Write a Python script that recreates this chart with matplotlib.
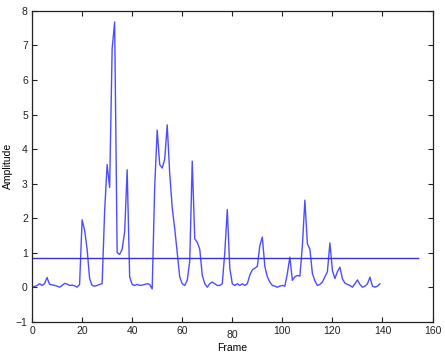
import numpy as np
import matplotlib
matplotlib.use('Agg')
import matplotlib.pyplot as plt

# amplitude per frame
amplitude = [
    0.00, 0.02, 0.05, 0.10, 0.05, 0.10, 0.28, 0.08, 0.07, 0.05,
    0.03, 0.00, 0.05, 0.11, 0.09, 0.05, 0.06, 0.04, 0.00, 0.08,
    1.95, 1.65, 1.10, 0.25, 0.05, 0.03, 0.05, 0.08, 0.10, 2.20,
    3.55, 2.89, 6.90, 7.68, 1.00, 0.95, 1.10, 1.60, 3.40, 0.30,
    0.08, 0.05, 0.08, 0.05, 0.06, 0.08, 0.10, 0.08, -0.05, 2.90,
    4.55, 3.55, 3.45, 3.70, 4.70, 3.30, 2.30, 1.70, 1.00, 0.30,
    0.10, 0.05, 0.20, 0.75, 3.65, 1.40, 1.30, 1.10, 0.35, 0.10,
    0.00, 0.10, 0.15, 0.10, 0.05, 0.05, 0.10, 1.00, 2.25, 0.55,
    0.10, 0.05, 0.10, 0.05, 0.10, 0.05, 0.10, 0.35, 0.50, 0.55,
    0.60, 1.20, 1.45, 0.60, 0.30, 0.15, 0.05, 0.03, 0.00, 0.03,
    0.05, 0.03, 0.40, 0.87, 0.20, 0.30, 0.34, 0.32, 1.20, 2.52,
    1.26, 1.10, 0.40, 0.18, 0.05, 0.08, 0.15, 0.30, 0.45, 1.28,
    0.48, 0.25, 0.45, 0.58, 0.24, 0.12, 0.08, 0.05, 0.00, 0.10,
    0.21, 0.08, 0.00, 0.03, 0.10, 0.29, 0.03, 0.00, 0.03, 0.10,
]
frames = np.arange(len(amplitude))
threshold = 0.84
threshold_end = 154

x_ticks = [0, 20, 40, 60, 80, 100, 120, 140, 160]
y_ticks = [-1, 0, 1, 2, 3, 4, 5, 6, 7, 8]

plt.rcParams['font.family'] = ['Liberation Sans', 'DejaVu Sans']

fig = plt.figure(figsize=(4.45, 3.56), dpi=100)
ax = fig.add_axes([0.072, 0.0963, 0.9, 0.873])

ax.plot(frames, amplitude, color=(0.3, 0.3, 1.0), lw=1.0)
ax.plot([0, threshold_end], [threshold, threshold], color=(0.2, 0.2, 0.85), lw=1.0)

ax.set_xlim(0, 160)
ax.set_ylim(-1, 8)
ax.set_xticks(x_ticks)
ax.set_yticks(y_ticks)
ax.tick_params(direction='in', length=3.5, width=0.8, labelsize=7.5,
               top=True, right=True, colors='#222222', pad=3)
for s in ax.spines.values():
    s.set_linewidth(0.9)
    s.set_color('#222222')

# the "80" label sits a little lower in the original
ax.xaxis.get_major_ticks()[4].set_pad(6)

ax.set_xlabel('Frame', fontsize=7.5, labelpad=2)
ax.set_ylabel('Amplitude', fontsize=7.5, labelpad=2)

fig.savefig('out.png', dpi=100)
